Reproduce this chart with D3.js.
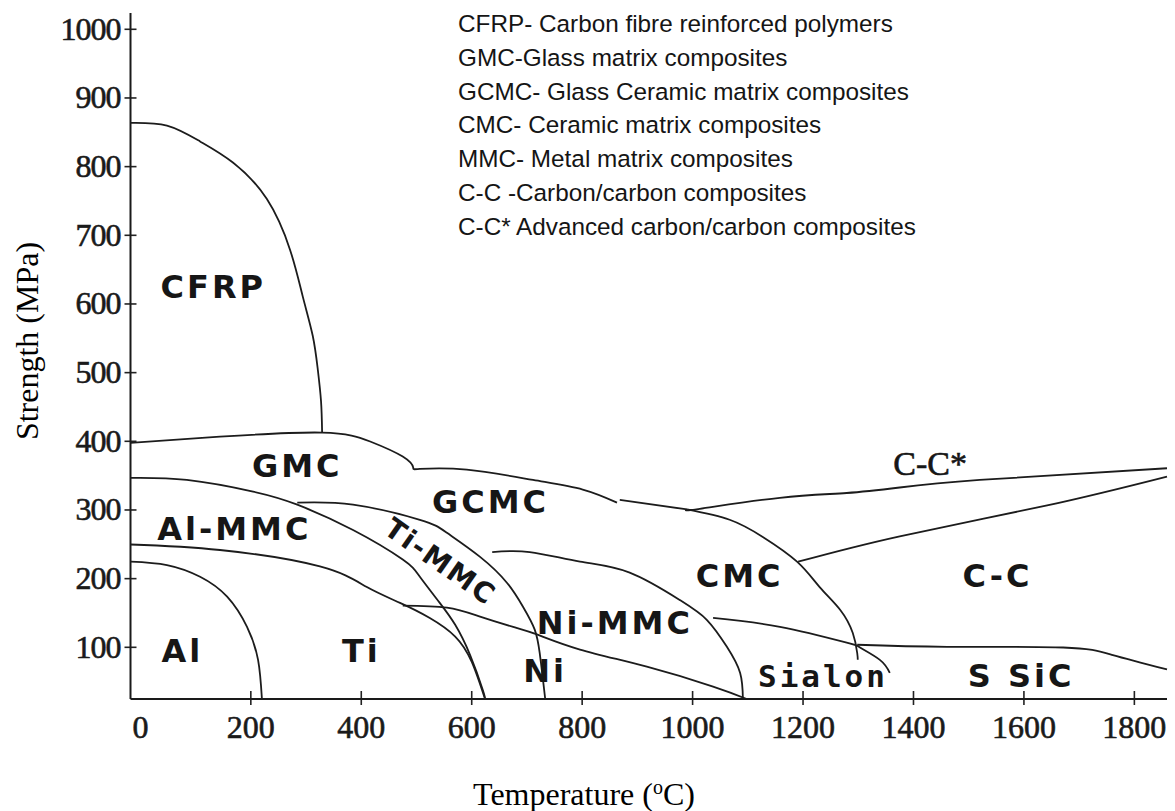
<html>
<head>
<title>Strength vs temperature of composites</title>
<style type="text/css">
  body{
    margin: 0;
    background: #fff;
  }
  .legend text{
    font-family: "Liberation Sans", Arial, sans-serif;
    font-size: 24.3px;
    fill: #151515;
  }
  .region{
    font-family: "DejaVu Sans", Verdana, sans-serif;
    font-weight: bold;
    font-size: 32px;
    letter-spacing: 3px;
    fill: #161616;
  }
  .axis text{
    font-family: "Liberation Serif", "Times New Roman", serif;
    font-size: 32px;
    fill: #1a1a1a;
    stroke: #1a1a1a;
    stroke-width: 0.6px;
  }
  .title{
    font-family: "Liberation Serif", "Times New Roman", serif;
    font-size: 32px;
    fill: #000;
  }
</style>
</head>
<body>
<script src="https://d3js.org/d3.v7.min.js"></script>
<div id="graph_item"></div>
<script>

var width = 1175, height = 811;

// tick values
var tempTicks = [0, 200, 400, 600, 800, 1000, 1200, 1400, 1600, 1800];
var strengthTicks = [100, 200, 300, 400, 500, 600, 700, 800, 900, 1000];

// region boundaries, [temperature (C), strength (MPa)]
var cfrpEdge   = [[-17,863],[49,859],[109,836],[169,805],[230,752],[272,678],[295,610],[313,553],[322,505],[328,458],[330,412]];
var gmcTop     = [[-17,397],[145,406],[330,412],[417,399],[476,377],[495,361],[507,359],[592,358],[712,343],[802,329],[864,310]];
var cmcTop     = [[869,314],[991,300]];
var ccStarEdge = [[991,300],[1014,301],[1159,317],[1280,324],[1376,332],[1521,343],[1860,360]];
var ccEdge     = [[1192,224],[1376,261],[1643,306],[1860,348]];
var cmcEdge    = [[991,300],[1068,285],[1128,260],[1190,224],[1231,187],[1268,154],[1291,120],[1299,91],[1300,81]];
var alMmcEdge  = [[-17,346],[85,343],[205,326],[285,307],[386,270],[476,227],[507,202],[543,164],[571,132],[598,88],[621,37],[625,24]];
var tiMmcEdge  = [[285,310],[386,307],[507,285],[556,266],[616,231],[665,193],[694,158],[715,125],[724,91],[730,52],[734,24]];
var tiEdge     = [[-17,249],[145,241],[326,217],[411,187],[471,164],[525,142],[571,115],[601,78],[625,24]];
var alEdge     = [[-17,224],[49,219],[109,202],[158,173],[194,129],[214,81],[221,24]];
var niMmcEdge  = [[638,238],[706,238],[797,224],[887,208],[978,168],[1027,139],[1063,100],[1087,62],[1092,24]];
var niEdge     = [[476,160],[556,157],[616,144],[676,129],[719,118],[797,96],[918,71],[1038,42],[1099,24]];
var sialonEdge = [[1038,142],[1159,129],[1280,106],[1304,99],[1340,81],[1358,62]];
var ssicEdge   = [[1299,103],[1462,100],[1672,99],[1762,88],[1860,67]];

var boundaries = [cfrpEdge, gmcTop, cmcTop, ccStarEdge, ccEdge, cmcEdge, alMmcEdge,
                  tiMmcEdge, tiEdge, alEdge, niMmcEdge, niEdge, sialonEdge, ssicEdge];

// region names and where they sit (temperature, strength)
var regionNames = ["CFRP", "GMC", "Al-MMC", "Al", "Ti", "GCMC", "Ni-MMC", "Ni", "CMC", "C-C", "S SiC"];
var regionTemps = [133, 285, 171, 77, 401, 635, 860, 734, 1086, 1553, 1596];
var regionStrengths = [608, 348, 256, 78, 78, 295, 118, 49, 187, 187, 42];

var legendLines = [
  "CFRP- Carbon fibre reinforced polymers",
  "GMC-Glass matrix composites",
  "GCMC- Glass Ceramic matrix composites",
  "CMC- Ceramic matrix composites",
  "MMC- Metal matrix composites",
  "C-C -Carbon/carbon composites",
  "C-C* Advanced carbon/carbon composites"
];

var svg = d3.select("#graph_item")
  .append("svg")
    .attr("width", width)
    .attr("height", height)
    .style("display", "block");

// scales
var x = d3.scaleLinear()
  .domain([-17, 1860])
  .range([130.5, 1167]);

var y = d3.scaleLinear()
  .domain([24, 1023])
  .range([699, 13]);

// Add X axis
svg.append("g")
  .attr("class", "axis")
  .attr("transform", "translate(0," + y(24) + ")")
  .call(d3.axisBottom(x).tickValues(tempTicks).tickFormat(d3.format("d")).tickSize(6).tickPadding(10))
  .call(g => g.select(".domain").remove())
  .call(g => g.selectAll(".tick line").attr("y1", -8).attr("stroke", "#222").attr("stroke-width", 1.6))
  .call(g => g.selectAll(".tick").filter(d => d === 0).select("line").remove());

// Add Y axis
svg.append("g")
  .attr("class", "axis")
  .attr("transform", "translate(" + x(-17) + ",0)")
  .call(d3.axisLeft(y).tickValues(strengthTicks).tickFormat(d3.format("d")).tickSize(6).tickPadding(4))
  .call(g => g.select(".domain").remove())
  .call(g => g.selectAll(".tick line").attr("x1", 6).attr("stroke", "#222").attr("stroke-width", 1.6))
  .call(g => g.selectAll(".tick text").attr("letter-spacing", "-1px"));

// axis lines
svg.append("line")
  .attr("x1", x(-17)).attr("x2", x(1860))
  .attr("y1", y(24)).attr("y2", y(24))
  .attr("stroke", "#1a1a1a").attr("stroke-width", 2);
svg.append("line")
  .attr("x1", x(-17)).attr("x2", x(-17))
  .attr("y1", y(24)).attr("y2", y(1023))
  .attr("stroke", "#1a1a1a").attr("stroke-width", 2);

// Draw the boundaries
var line = d3.line()
  .x(d => x(d[0]))
  .y(d => y(d[1]))
  .curve(d3.curveNatural);

svg.selectAll(".edge")
  .data(boundaries)
  .join("path")
    .attr("class", "edge")
    .attr("fill", "none")
    .attr("stroke", "#1c1c1c")
    .attr("stroke-width", 1.8)
    .attr("d", line);

// region labels
svg.selectAll(".region")
  .data(regionNames)
  .join("text")
    .attr("class", "region")
    .attr("text-anchor", "middle")
    .attr("x", (d, i) => x(regionTemps[i]))
    .attr("y", (d, i) => y(regionStrengths[i]))
    .text(d => d);

// Ti-MMC sits along its band
svg.append("text")
  .attr("class", "region")
  .attr("text-anchor", "middle")
  .attr("dominant-baseline", "central")
  .style("font-size", "28px")
  .style("letter-spacing", "2px")
  .attr("transform", "translate(" + x(544) + "," + y(224) + ") rotate(35)")
  .text("Ti-MMC");

// Sialon is set in a typewriter face
svg.append("text")
  .attr("text-anchor", "middle")
  .attr("x", x(1237))
  .attr("y", y(42))
  .style("font-family", "'DejaVu Sans Mono', monospace")
  .style("font-weight", "bold")
  .style("font-size", "31px")
  .style("letter-spacing", "3px")
  .style("fill", "#161616")
  .text("Sialon");

// C-C* in serif
svg.append("text")
  .attr("text-anchor", "middle")
  .attr("x", x(1431))
  .attr("y", y(350))
  .style("font-family", "'Liberation Serif', serif")
  .style("font-size", "34px")
  .style("fill", "#161616")
  .style("stroke", "#161616")
  .style("stroke-width", "0.6px")
  .text("C-C*");

// legend block
svg.append("g")
  .attr("class", "legend")
  .selectAll("text")
  .data(legendLines)
  .join("text")
    .attr("x", 458)
    .attr("y", (d, i) => 32 + i * 33.8)
    .text(d => d);

// axis titles
svg.append("text")
  .attr("class", "title")
  .attr("text-anchor", "middle")
  .attr("transform", "translate(38,341) rotate(-90)")
  .text("Strength (MPa)");

var xt = svg.append("text")
  .attr("class", "title")
  .attr("text-anchor", "middle")
  .attr("x", 584)
  .attr("y", 805);
xt.append("tspan").text("Temperature (");
xt.append("tspan").attr("baseline-shift", "super").style("font-size", "20px").text("o");
xt.append("tspan").text("C)");

</script>
</body>
</html>
